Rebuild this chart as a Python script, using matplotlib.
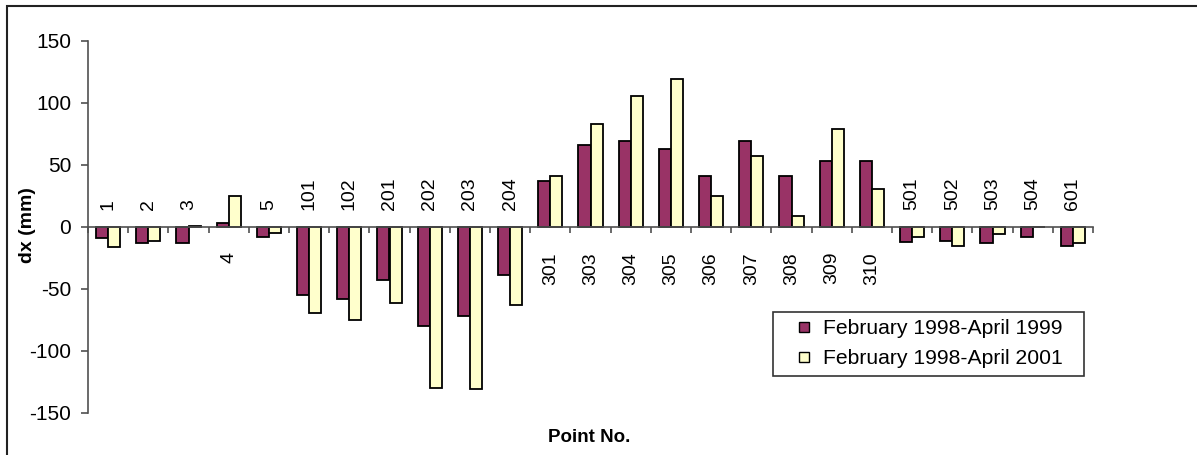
import matplotlib
matplotlib.use("Agg")
import matplotlib.pyplot as plt
import numpy as np
from matplotlib.lines import Line2D
from matplotlib.patches import Rectangle

points = ["1", "2", "3", "4", "5", "101", "102", "201", "202", "203", "204",
          "301", "303", "304", "305", "306", "307", "308", "309", "310",
          "501", "502", "503", "504", "601"]
dx_1999 = [-9, -13, -13, 3, -8, -55, -58, -43, -80, -72, -39,
           37, 66, 69, 63, 41, 69, 41, 53, 53,
           -12, -11, -13, -8, -15]
dx_2001 = [-16, -11, 1, 25, -5, -69, -75, -61, -130, -131, -63,
           41, 83, 106, 119, 25, 57, 9, 79, 31,
           -8, -15, -6, 0, -13]
series_names = ["February 1998-April 1999", "February 1998-April 2001"]
yticks = [-150, -100, -50, 0, 50, 100, 150]

plt.rcParams["font.family"] = ["Liberation Sans", "DejaVu Sans"]

W, H = 1197, 455
fig = plt.figure(figsize=(W / 100, H / 100), dpi=100)
ax = fig.add_axes([88 / W, 1 - 413 / H, (1093 - 88) / W, (413 - 41) / H])

x = np.arange(len(points))
bw = 0.3
c1, c2 = "#993366", "#FFFFCC"
ax.bar(x - bw / 2, dx_1999, bw, color=c1, edgecolor="black", linewidth=1.3, zorder=3)
ax.bar(x + bw / 2, dx_2001, bw, color=c2, edgecolor="black", linewidth=1.3, zorder=3)

ax.set_xlim(-0.5, len(points) - 0.5)
ax.set_ylim(-150, 150)

axis_col = "#505050"
for s in ["top", "right"]:
    ax.spines[s].set_visible(False)
ax.spines["bottom"].set_position(("data", 0))
ax.spines["bottom"].set_color(axis_col)
ax.spines["left"].set_color(axis_col)
ax.spines["bottom"].set_linewidth(1.2)
ax.spines["left"].set_linewidth(1.2)
ax.spines["bottom"].set_zorder(4)

ax.set_xticks(np.arange(len(points) + 1) - 0.5)
ax.set_xticklabels([])
ax.tick_params(axis="x", direction="out", length=4, width=1.2, color=axis_col)
ax.set_yticks(yticks)
ax.set_yticklabels([str(v) for v in yticks], fontsize=15)
ax.tick_params(axis="y", direction="out", length=5, width=1.2, color=axis_col, pad=7)

# category names sit next to the zero line, on the side away from the bars
for i, name in enumerate(points):
    if max(dx_1999[i], dx_2001[i]) > 2:
        ax.annotate(name, (i, 0), xytext=(0, -18), textcoords="offset points",
                    rotation=90, ha="center", va="top", fontsize=14)
    else:
        ax.annotate(name, (i, 0), xytext=(0, 12), textcoords="offset points",
                    rotation=90, ha="center", va="bottom", fontsize=14)

fig.text(27 / W, 1 - 225 / H, "dx (mm)", rotation=90, ha="center", va="center",
         fontsize=14, fontweight="bold")
fig.text(589 / W, 1 - 437 / H, "Point No.", ha="center", va="center",
         fontsize=13.5, fontweight="bold")

handles = [Line2D([], [], linestyle="none", marker="s", markersize=7.5,
                  markerfacecolor=c, markeredgecolor="black", markeredgewidth=1)
           for c in (c1, c2)]
lx0 = (773 - 88) / 1005
lx1 = (1084 - 88) / 1005
ltop = (413 - 312) / 372
leg = ax.legend(handles, series_names, loc="upper left", mode="expand",
                bbox_to_anchor=(lx0, ltop - 0.2, lx1 - lx0, 0.2),
                borderaxespad=0, fontsize=15.2, frameon=True, fancybox=False,
                handlelength=2.2, handletextpad=-0.2, labelspacing=0.52,
                borderpad=0.35)
leg.get_frame().set_edgecolor("black")
leg.get_frame().set_linewidth(1.2)

# outer chart border
fig.patches.append(Rectangle((7 / W, -0.1), 1.2, 1 - 6 / H + 0.1,
                             transform=fig.transFigure, fill=False,
                             edgecolor="#222222", linewidth=1.5))

fig.savefig("out.png", dpi=100)
